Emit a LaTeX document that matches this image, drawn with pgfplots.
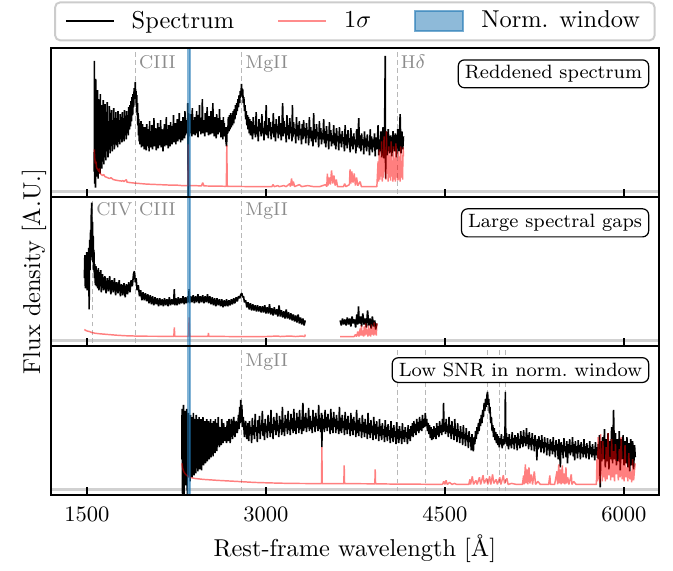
\documentclass[border=0pt]{standalone}
\usepackage{pgfplots}
\pgfplotsset{compat=1.18}
\usepgfplotslibrary{groupplots}
\definecolor{tabblue}{RGB}{31,119,180}
\pgfplotsset{
  lineleg/.style={legend image code/.code={\draw[##1] (0pt,0pt) -- (19.7pt,0pt);}},
  patchleg/.style={legend image code/.code={\draw[##1] (0pt,-4.1pt) rectangle (19.7pt,4.1pt);}},
}
\tikzset{
  spec/.style={black, line width=0.65pt, line join=bevel},
  err/.style={red, draw opacity=0.5, line width=0.6pt, line join=bevel},
  zero/.style={black!18, line width=1.1pt},
  lin/.style={black!28, line width=0.4pt, dash pattern=on 2pt off 1.3pt},
  win/.style={fill=tabblue, fill opacity=0.55, draw=tabblue, draw opacity=0.55, line width=0.8pt},
  lab/.style={anchor=base west, text=black!45, font=\fontsize{7.6}{9}\selectfont, inner sep=0pt, xshift=1.2pt},
  box/.style={draw=black, line width=0.5pt, rounded corners=2.5pt, fill=white, anchor=north east, font=\fontsize{7.9}{10}\selectfont, inner xsep=2.7pt, inner ysep=2.2pt},
}
\begin{document}
\begin{tikzpicture}
\begin{groupplot}[
  group style={group size=1 by 3, vertical sep=0pt, xticklabels at=edge bottom},
  width=249.4pt, height=61.05pt, scale only axis,
  xmin=1196, xmax=6295, ymin=-5.5, ymax=142.5,
  xtick={1500,3000,4500,6000}, ytick=\empty,
  xtick pos=left, tick align=inside, major tick length=3.3pt,
  axis line style={line width=0.75pt},
  every tick/.style={black, line width=0.6pt},
  x tick label style={font=\fontsize{9}{10}\selectfont, /pgf/number format/1000 sep={}, yshift=-1.5pt},
  axis on top,
  every axis plot/.append style={forget plot},
]
%%%%%%%%%%%%%%%%%%%% PANEL 1
\nextgroupplot[
  legend style={at={(0.5,1)}, anchor=south, yshift=2.87pt, legend columns=3, draw=black!20, line width=0.8pt, rounded corners=2pt, inner xsep=4pt, inner ysep=1.5pt, nodes={inner sep=2pt}, font=\normalsize, /tikz/every odd column/.append style={column sep=5pt}, /tikz/every even column/.append style={column sep=15.7pt}},
]
\addlegendimage{lineleg, black, line width=0.7pt}
\addlegendentry{Spectrum}
\addlegendimage{lineleg, red, draw opacity=0.45, line width=0.7pt}
\addlegendentry{1$\sigma$}
\addlegendimage{patchleg, fill=tabblue, fill opacity=0.5, draw=tabblue, draw opacity=0.6, line width=0.8pt, sharp corners}
\addlegendentry{Norm. window}
\addplot[zero] coordinates {(1000,0) (7000,0)};
\addplot[lin] coordinates {(1909,-10) (1909,150)};
\addplot[lin] coordinates {(2798,-10) (2798,150)};
\addplot[lin] coordinates {(4102,-10) (4102,150)};
\addplot[spec] coordinates {
(1561,20) (1562,130) (1564,8) (1567,96) (1569,30) (1571,4) (1573,112) (1576,40) (1578,15) (1581,88) (1583,60) (1585,22) (1588,101) (1591,45) (1593,13) (1596,92) (1599,70) (1601,27) (1604,84) (1606,36) (1609,18) (1612,97) (1615,55) (1617,31) (1620,86) (1623,62) (1625,23) (1628,79) (1631,48) (1633,35) (1636,91) (1639,57) (1641,27) (1644,75) (1647,63) (1649,37) (1652,87) (1655,52) (1658,31) (1661,72) (1664,58) (1667,40) (1670,89) (1673,47) (1676,34) (1679,70) (1682,60) (1685,43) (1688,85) (1691,52) (1694,38) (1697,75) (1700,62) (1703,46) (1706,81) (1709,55) (1712,40) (1715,70) (1718,58) (1721,48) (1724,83) (1727,54) (1730,42) (1733,72) (1736,62) (1739,50) (1742,79) (1745,56) (1748,46) (1751,68) (1754,60) (1757,44) (1760,80) (1763,57) (1766,50) (1769,71) (1772,62) (1775,47) (1778,77) (1781,58) (1784,52) (1787,70) (1790,60) (1793,49) (1796,79) (1799,61) (1802,53) (1805,73) (1808,63) (1811,50) (1814,81) (1817,58) (1820,56) (1823,72) (1826,64) (1829,52) (1832,80) (1835,62) (1838,58) (1841,76) (1844,66) (1847,56) (1850,84) (1853,66) (1856,62) (1859,86) (1862,70) (1865,65) (1868,90) (1871,74) (1874,70) (1877,94) (1880,78) (1883,76) (1886,97) (1889,84) (1892,86) (1895,103) (1898,92) (1901,95) (1905,109) (1908,92) (1911,100) (1914,84) (1917,96) (1920,76) (1923,88) (1926,66) (1929,78) (1932,56) (1935,72) (1938,50) (1941,68) (1944,47) (1947,64) (1950,52) (1953,70) (1956,44) (1959,62) (1962,50) (1965,67) (1968,45) (1971,60) (1974,52) (1977,64) (1980,42)
(1985,64) (1989,49) (1993,58) (1997,41) (2001,67) (2005,52) (2009,45) (2013,62) (2017,56) (2021,40) (2025,70) (2029,48) (2033,59) (2037,44) (2041,53) (2045,66) (2049,42) (2053,58) (2057,50) (2061,73) (2065,45) (2069,55) (2073,47) (2077,63) (2081,41) (2085,60) (2089,52) (2093,68) (2097,43) (2101,57) (2105,49) (2109,64) (2113,46) (2117,71) (2121,44) (2125,56) (2129,50) (2133,62) (2137,40) (2141,59) (2145,53) (2149,67) (2153,45) (2157,58) (2161,48) (2165,74) (2169,46) (2173,55) (2177,62) (2181,43) (2185,66) (2189,51) (2193,57) (2197,45) (2201,69) (2205,50) (2209,60) (2213,47) (2217,65) (2221,53) (2225,76) (2229,49) (2233,58) (2237,52) (2241,68) (2245,47) (2249,62) (2253,56) (2257,72) (2261,50) (2265,60) (2269,54) (2273,78) (2277,52) (2281,63) (2285,49) (2289,70) (2293,57) (2297,65) (2301,51) (2305,74) (2309,55) (2313,62) (2317,53) (2321,80) (2325,56) (2329,66) (2333,58) (2337,71) (2341,60) (2345,88) (2348,-10) (2351,78) (2355,55)
(2359,70) (2363,58) (2367,77) (2371,61) (2375,66) (2379,55) (2383,83) (2387,60) (2391,71) (2395,57) (2399,64) (2403,74) (2407,56) (2411,68) (2415,62) (2419,80) (2423,58) (2427,70) (2431,54) (2435,76) (2439,63) (2443,86) (2447,60) (2451,69) (2455,57) (2459,73) (2463,64) (2467,92) (2471,58) (2475,71) (2479,60) (2483,66) (2487,55) (2491,78) (2495,62) (2499,72) (2503,59) (2507,84) (2511,61) (2515,68) (2519,56) (2523,75) (2527,63) (2531,70) (2535,57) (2539,80) (2543,60) (2547,67) (2551,58) (2555,88) (2559,62) (2563,71) (2567,55) (2571,74) (2575,61) (2579,66) (2583,53) (2587,77) (2591,62) (2595,70) (2599,57) (2603,73) (2607,59) (2611,82) (2615,60) (2619,67) (2623,54) (2627,71) (2631,58) (2635,65) (2639,52) (2643,74) (2647,57) (2651,68) (2655,55) (2660,64) (2665,50) (2670,45) (2675,64)
(2680,58) (2685,74) (2690,60) (2695,76) (2700,62) (2705,78) (2710,64) (2715,76) (2720,66) (2725,80) (2730,68) (2735,82) (2740,72) (2745,86) (2750,76) (2755,88) (2760,80) (2765,92) (2770,84) (2775,96) (2780,88) (2785,100) (2790,94) (2795,107) (2800,96) (2805,102) (2810,88) (2815,94) (2820,80) (2825,86) (2830,72) (2835,80) (2840,66) (2845,76) (2850,62) (2855,74) (2860,58) (2865,72)
(2870,56) (2876,70) (2882,60) (2888,52) (2894,74) (2900,58) (2906,66) (2912,54) (2918,79) (2924,57) (2930,64) (2936,50) (2942,72) (2948,60) (2954,68) (2960,55) (2966,77) (2972,58) (2978,63) (2984,51) (2990,70) (2996,57) (3002,86) (3008,56) (3014,66) (3020,53) (3026,73) (3032,60) (3038,69) (3044,52) (3050,64) (3056,58) (3062,78) (3068,54) (3074,67) (3080,50) (3086,72) (3092,59) (3098,65) (3104,53) (3110,75) (3116,57) (3122,68) (3128,51) (3134,63) (3140,88) (3146,55) (3152,70) (3158,58) (3164,64) (3170,49) (3176,76) (3182,56) (3188,66) (3194,52) (3200,73) (3206,58) (3212,64) (3218,50) (3222,86) (3226,54) (3232,69) (3238,57) (3244,62) (3250,48) (3256,74) (3262,55) (3268,66) (3274,51) (3280,70) (3286,56) (3292,62) (3298,47) (3304,67)
(3310,52) (3316,71) (3322,55) (3328,63) (3334,48) (3340,68) (3346,56) (3352,61) (3358,46) (3364,74) (3370,53) (3376,64) (3382,50) (3388,60) (3394,45) (3400,78) (3406,52) (3412,62) (3418,49) (3424,67) (3430,55) (3436,59) (3442,44) (3448,70) (3454,52) (3460,63) (3466,47) (3472,58) (3478,52) (3484,72) (3490,48) (3496,60) (3502,44) (3508,65) (3514,51) (3520,57) (3526,42) (3532,69) (3538,50) (3544,61) (3550,45) (3556,56) (3562,48) (3568,66) (3574,46) (3580,58) (3586,42) (3592,63) (3598,50) (3604,55) (3610,41) (3616,64) (3622,48) (3628,57) (3634,44) (3640,60) (3646,50) (3652,54) (3658,40) (3664,66) (3670,46) (3676,57) (3682,43) (3688,61) (3694,49) (3700,53) (3706,39) (3712,63) (3718,45) (3724,55) (3730,42) (3736,58) (3742,47) (3748,52) (3754,38) (3760,62) (3766,44) (3772,55) (3778,73) (3784,43) (3790,56) (3796,40) (3802,58) (3808,46) (3814,52) (3820,37) (3826,60) (3832,44) (3838,53) (3844,40) (3850,57) (3856,45) (3862,50) (3868,36) (3874,62) (3880,42) (3886,55) (3892,39) (3898,52) (3904,44) (3910,58) (3916,35) (3922,54) (3928,42) (3934,48) (3940,66) (3946,36) (3952,52) (3958,40) (3964,60) (3970,34) (3976,56) (3982,64) (3988,33) (3994,50) (4000,135) (4003,13) (4008,60) (4015,36) (4025,62) (4035,38) (4045,56) (4055,35) (4065,60) (4075,40) (4085,58) (4095,34) (4105,62) (4115,40) (4125,77) (4132,38) (4140,60) (4147,42) (4153,55)
};
\addplot[err] coordinates {
(1561,42) (1565,33) (1570,28) (1575,30) (1580,24) (1590,22) (1600,20) (1605,23) (1610,18) (1620,17) (1630,16) (1640,17) (1650,15) (1670,14) (1690,13) (1700,14) (1720,12) (1740,11.5) (1760,11) (1790,10.5) (1800,11) (1810,10) (1830,12) (1835,9.5) (1860,9) (1900,8.5) (1950,8) (2000,7.5) (2100,7) (2200,6.5) (2250,6.5) (2300,6) (2345,6) (2348,47) (2351,6) (2400,6) (2460,5.7) (2470,9) (2480,5.7) (2550,5.5) (2600,5.5) (2668,5.3) (2672,46) (2676,5.3) (2750,5.2) (2900,5) (3000,5) (3050,5) (3060,7) (3070,5) (3100,6) (3110,5) (3150,6) (3170,5) (3200,8) (3205,5) (3215,13) (3222,6) (3230,10) (3240,5) (3280,7) (3300,5) (3350,6) (3400,5) (3450,5) (3500,7) (3510,5) (3515,18) (3520,6) (3530,14) (3540,7) (3550,21) (3560,8) (3570,16) (3580,6) (3590,12) (3600,5) (3650,5) (3660,8) (3670,5) (3700,7) (3705,22) (3712,8) (3720,20) (3730,9) (3740,18) (3750,6) (3760,14) (3770,6) (3790,10) (3800,5) (3850,5) (3900,5) (3930,5) (3940,30) (3945,10) (3950,42) (3955,12) (3960,35) (3965,15) (3970,50) (3975,10) (3980,38) (3985,14) (3990,55) (3995,20) (4000,40) (4005,12) (4010,60) (4015,18) (4020,30) (4025,10) (4030,45) (4035,14) (4040,36) (4045,11) (4050,50) (4055,15) (4060,28) (4065,10) (4070,45) (4075,12) (4080,32) (4085,10) (4090,48) (4095,14) (4100,30) (4105,11) (4110,40) (4115,12) (4120,35) (4125,10) (4130,45) (4135,14) (4140,30) (4145,12) (4150,44) (4153,35)
};
\addplot[win] coordinates {(2340,-10) (2360,-10) (2360,150) (2340,150)};
\node[lab] at (axis cs:1909,122) {CIII};
\node[lab] at (axis cs:2798,122) {MgII};
\node[lab] at (axis cs:4102,122) {H$\delta$};
\node[box] at (rel axis cs:0.984,0.926) {Reddened spectrum};
%%%%%%%%%%%%%%%%%%%% PANEL 2
\nextgroupplot[ylabel={Flux density [A.U.]}, ylabel style={font=\normalsize, at={(rel axis cs:0.0066,0.5)}, anchor=south}]
\addplot[zero] coordinates {(1000,0) (7000,0)};
\addplot[lin] coordinates {(1549,-10) (1549,150)};
\addplot[lin] coordinates {(1909,-10) (1909,150)};
\addplot[lin] coordinates {(2798,-10) (2798,150)};
\addplot[spec] coordinates {
(1478,62) (1482,85) (1486,52) (1490,80) (1494,58) (1498,88) (1502,50) (1506,84) (1510,60) (1514,92) (1518,31) (1522,100) (1526,70) (1530,110) (1533,80) (1536,125) (1540,137) (1543,90) (1546,118) (1549,78) (1552,104) (1555,70) (1558,90) (1562,62) (1566,76) (1570,55) (1575,74) (1580,54) (1585,70) (1590,52) (1595,72) (1600,50) (1605,68) (1610,54) (1615,70) (1620,48) (1630,66) (1640,50) (1650,64) (1660,47) (1670,62) (1680,49) (1690,64) (1700,46) (1710,60) (1720,48) (1730,62) (1740,45) (1750,58) (1760,47) (1770,60) (1780,44) (1790,56) (1800,45) (1810,57) (1820,43) (1830,56) (1840,46) (1850,58) (1860,48) (1870,60) (1880,54) (1890,66) (1897,69) (1905,58) (1912,62) (1920,50) (1930,55) (1940,44) (1950,50) (1960,40) (1970,48) (1980,40) (1990,47) (2000,39) (2010,46) (2020,37) (2030,45) (2040,36) (2050,44) (2060,35) (2070,43) (2080,36) (2090,42) (2100,34) (2110,42) (2120,35) (2130,41) (2140,34) (2150,42) (2160,35) (2170,41) (2180,34) (2190,43) (2200,35) (2210,41) (2220,36) (2228,42) (2232,51) (2236,35) (2245,42) (2255,35) (2265,43) (2275,36) (2285,42) (2295,37) (2305,44) (2315,36) (2325,43) (2335,37) (2345,44) (2352,38) (2356,51) (2360,37) (2370,44) (2380,38) (2390,45) (2400,37) (2410,44) (2420,38) (2430,46) (2440,37) (2450,44) (2460,38) (2470,45) (2480,37) (2490,44) (2500,38) (2510,46) (2520,37) (2530,44) (2540,36) (2550,43) (2560,35) (2570,42) (2580,34) (2590,42) (2600,35) (2610,41) (2620,34) (2630,41) (2640,33) (2650,40) (2660,34) (2670,41) (2680,34) (2690,40) (2700,35) (2710,41) (2720,36) (2730,42) (2740,37) (2750,43) (2760,39) (2770,44) (2780,42) (2790,46) (2798,47) (2805,43) (2812,44) (2820,38) (2830,40) (2840,33) (2850,38) (2860,31) (2870,37) (2880,30) (2890,36) (2900,30) (2910,35) (2920,29) (2930,35) (2940,29) (2950,34) (2960,28) (2970,34) (2980,28) (2990,35) (3000,27) (3010,33) (3020,27) (3030,36) (3040,26) (3050,32) (3060,25) (3070,33) (3080,26) (3090,31) (3100,24) (3110,35) (3120,24) (3130,30) (3140,23) (3150,29) (3160,22) (3170,31) (3180,22) (3190,28) (3200,21) (3210,27) (3220,20) (3230,26) (3240,19) (3250,25) (3260,18) (3270,26) (3280,17) (3290,23) (3300,16) (3310,22) (3320,15) (3329,20)
};
\addplot[spec] coordinates {
(3622,20) (3632,15) (3642,22) (3652,16) (3662,21) (3672,15) (3682,23) (3692,16) (3702,22) (3712,14) (3722,24) (3732,17) (3742,21) (3752,13) (3762,26) (3770,16) (3776,34) (3782,17) (3792,24) (3802,14) (3812,27) (3822,16) (3832,22) (3842,13) (3852,30) (3862,15) (3872,22) (3882,12) (3892,24) (3902,14) (3912,20) (3920,11) (3930,17)
};
\addplot[err] coordinates {
(1478,11) (1490,10) (1500,9.5) (1520,9) (1540,8) (1567,7.3) (1600,6.8) (1679,6) (1750,5.3) (1819,4.8) (1900,4.5) (2000,4.3) (2228,4.2) (2232,13) (2236,4.2) (2352,4.2) (2356,23) (2360,4.2) (2515,4.2) (2518,7.5) (2521,4.2) (2700,4) (2800,4) (3000,4) (3100,4.5) (3120,4) (3200,4.5) (3250,4) (3300,4.5) (3326,4) (3329,6)
};
\addplot[err] coordinates {
(3622,4) (3700,4) (3740,4) (3750,6) (3760,4) (3770,9) (3780,4) (3790,12) (3795,5) (3800,15) (3806,5) (3812,10) (3818,4) (3824,14) (3830,5) (3836,17) (3842,6) (3848,11) (3854,4) (3860,15) (3866,5) (3872,12) (3878,4) (3884,16) (3890,6) (3896,13) (3902,5) (3908,18) (3914,6) (3920,14) (3925,5) (3930,17)
};
\addplot[win] coordinates {(2340,-10) (2360,-10) (2360,150) (2340,150)};
\node[lab] at (axis cs:1549,124) {CIV};
\node[lab] at (axis cs:1909,124) {CIII};
\node[lab] at (axis cs:2798,124) {MgII};
\node[box] at (rel axis cs:0.984,0.926) {Large spectral gaps};
%%%%%%%%%%%%%%%%%%%% PANEL 3
\nextgroupplot[xlabel={Rest-frame wavelength [\AA]}, xlabel style={font=\normalsize, yshift=1.5pt}]
\addplot[zero] coordinates {(1000,0) (7000,0)};
\addplot[lin] coordinates {(2798,-10) (2798,150)};
\addplot[lin] coordinates {(4102,-10) (4102,150)};
\addplot[lin] coordinates {(4340,-10) (4340,150)};
\addplot[lin] coordinates {(4861,-10) (4861,150)};
\addplot[lin] coordinates {(4959,-10) (4959,150)};
\addplot[lin] coordinates {(5007,-10) (5007,150)};
\addplot[spec] coordinates {
(2295,30) (2297,80) (2299,40) (2301,-5) (2303,70) (2305,35) (2307,10) (2309,84) (2311,50) (2313,-5) (2315,66) (2318,45) (2320,20) (2322,78) (2325,38) (2327,4) (2329,72) (2332,52) (2334,14) (2336,80) (2339,30) (2341,-5) (2344,70) (2347,48) (2349,12) (2352,76) (2355,40) (2357,20) (2360,68) (2363,50) (2365,8) (2368,74) (2371,44) (2373,16) (2376,72) (2379,36) (2381,12) (2384,66) (2387,50) (2389,20) (2392,76) (2395,42) (2397,14) (2400,70) (2403,54) (2405,22) (2408,68) (2411,38) (2413,16) (2416,74) (2419,50) (2421,24) (2424,64) (2427,44) (2429,18) (2432,70) (2435,56) (2437,22) (2440,72) (2443,40) (2445,20) (2448,66) (2451,52) (2453,26) (2456,70) (2459,46) (2461,19) (2464,64) (2467,55) (2469,28) (2472,72) (2475,42) (2477,24) (2480,66) (2483,54) (2485,30) (2488,68) (2491,48) (2493,26) (2496,62) (2499,50) (2501,32) (2504,70) (2507,45) (2509,28) (2512,64) (2515,56) (2517,34) (2520,68) (2523,50) (2525,30) (2528,62) (2531,52) (2533,36) (2536,70) (2539,48) (2541,32) (2544,66) (2547,57) (2549,38) (2552,64) (2555,50) (2557,33) (2560,68) (2563,55) (2565,40) (2568,62) (2571,52) (2573,36) (2576,70) (2579,58) (2581,42) (2584,64) (2587,53) (2589,38) (2592,66) (2595,56) (2597,44) (2600,72) (2605,50) (2610,42) (2615,62) (2620,55) (2625,44) (2630,70) (2635,56) (2640,46) (2645,66) (2650,58) (2655,48) (2660,62) (2665,55) (2670,46) (2675,68) (2680,57) (2685,48) (2690,70) (2695,58) (2700,46) (2710,70) (2720,50) (2730,72) (2740,52) (2750,68) (2760,56) (2770,74) (2775,60) (2780,82) (2785,66) (2789,89) (2793,70) (2798,84) (2803,62) (2810,72) (2820,52) (2830,68) (2840,50) (2850,66)
(2856,48) (2862,68) (2868,55) (2874,62) (2880,46) (2886,71) (2892,54) (2898,64) (2904,50) (2910,75) (2916,57) (2922,62) (2928,47) (2934,69) (2940,56) (2946,73) (2952,50) (2958,64) (2964,58) (2970,78) (2976,53) (2982,66) (2988,49) (2994,70) (3000,57) (3006,63) (3012,51) (3018,74) (3024,58) (3030,67) (3036,52) (3042,79) (3048,56) (3054,65) (3060,50) (3066,72) (3072,59) (3078,68) (3084,54) (3090,76) (3096,58) (3102,64) (3108,52) (3114,73) (3120,60) (3126,69) (3132,54) (3138,82) (3144,57) (3150,66) (3156,53) (3162,74) (3168,61) (3174,70) (3180,55) (3186,78) (3192,59) (3198,67) (3204,54) (3210,75) (3216,60) (3222,71) (3228,56) (3234,80) (3240,58) (3246,68) (3252,55) (3258,76) (3264,61) (3270,72) (3276,56) (3282,79) (3288,60) (3294,69) (3300,55) (3306,77) (3310,86) (3316,58) (3322,72) (3328,61) (3334,76) (3340,57) (3346,70) (3352,62) (3358,81) (3364,58) (3370,73) (3376,60) (3382,68) (3388,56) (3394,79) (3400,62) (3406,72) (3412,57) (3418,76) (3424,63) (3430,70) (3436,58) (3442,84) (3448,60) (3454,71) (3460,57) (3466,76) (3469,42) (3472,74) (3478,60) (3484,70) (3490,57) (3496,79) (3502,61) (3508,72) (3514,58) (3520,75) (3526,62) (3532,69) (3538,55) (3544,80) (3550,59) (3556,71) (3562,56) (3568,77) (3574,62) (3580,70) (3586,56) (3592,74) (3598,60) (3604,68) (3610,55) (3616,82) (3622,58) (3628,71) (3634,56) (3640,74) (3646,61) (3652,68) (3658,54) (3664,77) (3670,59) (3676,70) (3682,55) (3688,73) (3694,60) (3700,66) (3706,53) (3712,76) (3718,58) (3724,70) (3730,54) (3736,72) (3742,59) (3748,66) (3754,52) (3760,79) (3766,56) (3772,69) (3778,53) (3784,71) (3790,58) (3796,65) (3802,51) (3808,74) (3814,57) (3820,67) (3826,52) (3832,70) (3838,56) (3844,64) (3850,50) (3856,76) (3862,55) (3868,66) (3874,51) (3880,69) (3886,56) (3892,63) (3898,49) (3904,72) (3910,54) (3916,65) (3922,50) (3928,68) (3934,55) (3940,62) (3946,48) (3952,70) (3958,53) (3964,63) (3970,49) (3976,66) (3982,54) (3988,60) (3994,47) (4000,69) (4006,52) (4012,62) (4018,48) (4024,65) (4030,53) (4036,59) (4042,46) (4048,68) (4054,51) (4060,61) (4066,47) (4072,64) (4078,52) (4084,58) (4090,45) (4096,67) (4102,50) (4108,60) (4114,46) (4120,63) (4126,51) (4132,58) (4138,45) (4144,66) (4150,50) (4156,59) (4162,47) (4168,62) (4174,52) (4180,57) (4186,45) (4192,64) (4198,50) (4204,60) (4210,48) (4216,63) (4222,53) (4228,66) (4234,52) (4240,68) (4246,56) (4252,65) (4258,54) (4264,70) (4270,58) (4276,67) (4282,56) (4288,72) (4294,59) (4300,68) (4306,58) (4312,74) (4318,61) (4324,70) (4330,62) (4336,76) (4342,63) (4348,70) (4354,58) (4360,66) (4366,55) (4372,64) (4378,51) (4384,62) (4390,49) (4396,60) (4402,50) (4408,63) (4414,52) (4420,61) (4426,50) (4432,66) (4438,54) (4444,63) (4450,52) (4456,68) (4462,56) (4468,64) (4474,54) (4480,70) (4485,57) (4489,86) (4493,58)
(4499,66) (4505,55) (4511,70) (4517,57) (4523,63) (4529,52) (4535,72) (4541,56) (4547,64) (4553,50) (4559,68) (4565,55) (4571,61) (4577,49) (4583,70) (4589,53) (4595,60) (4601,47) (4607,66) (4613,52) (4619,58) (4625,46) (4631,63) (4637,51) (4643,57) (4649,44) (4655,64) (4661,50) (4667,55) (4673,43) (4679,61) (4685,49) (4691,54) (4697,41) (4703,58) (4709,47) (4715,52) (4721,39) (4727,55) (4733,44) (4739,38) (4745,52) (4751,45) (4757,58) (4763,50) (4769,62) (4775,55) (4781,66) (4787,58) (4793,70) (4799,63) (4805,74) (4811,66) (4817,79) (4823,72) (4829,86) (4835,78) (4841,90) (4847,82) (4853,94) (4858,97) (4863,84) (4868,90) (4873,76) (4878,82) (4884,66) (4890,72) (4896,58) (4902,64) (4908,52) (4914,61) (4920,49) (4926,57) (4932,46) (4938,55) (4944,44) (4950,53) (4956,42) (4962,51) (4968,45) (4974,55) (4980,41) (4986,50) (4992,44) (4998,53) (5003,45) (5007,97) (5011,47) (5016,56) (5022,43) (5028,52) (5034,40) (5040,55) (5046,44) (5052,50) (5058,41) (5064,57) (5070,45) (5076,51) (5082,40) (5088,54) (5094,46) (5100,52) (5106,39) (5112,56) (5118,44) (5124,50) (5130,41) (5136,58) (5142,45) (5148,53) (5154,42) (5160,59) (5166,46) (5172,52) (5178,43) (5184,61) (5190,45) (5196,54) (5202,40) (5208,57) (5214,44) (5220,51) (5226,39) (5232,56) (5238,45) (5244,50) (5250,38) (5256,54) (5262,43) (5268,48) (5271,29) (5276,50) (5282,40) (5288,53) (5294,42) (5300,49) (5306,37) (5312,54) (5318,41) (5324,47) (5330,36) (5336,52) (5342,42) (5348,46) (5354,34) (5360,51) (5366,40) (5372,45) (5378,33) (5384,50) (5390,39) (5396,47) (5402,35) (5408,52) (5414,38) (5420,44) (5426,32) (5432,49) (5438,39) (5444,45) (5450,30) (5456,50) (5462,38) (5468,22) (5474,47) (5480,37) (5486,44) (5492,31) (5498,51) (5504,38) (5510,43) (5516,32) (5522,48) (5528,26) (5534,45) (5540,36) (5546,50) (5552,34) (5558,44) (5564,37) (5570,52) (5576,33) (5582,45) (5588,29) (5594,48) (5600,36) (5606,43) (5612,31) (5618,49) (5624,37) (5630,44) (5636,30) (5642,47) (5648,36) (5654,42) (5660,32) (5666,50) (5672,35) (5678,43) (5684,31) (5690,46) (5696,36) (5702,41) (5708,30) (5714,48) (5720,35) (5726,42) (5732,32) (5738,45) (5744,34) (5750,40) (5756,29) (5762,47) (5768,34) (5774,42) (5780,31) (5786,45) (5790,30)
(5796,54) (5802,2) (5808,48) (5815,28) (5822,52) (5830,30) (5838,60) (5845,22) (5852,50) (5860,28) (5868,56) (5875,20) (5882,48) (5890,30) (5898,62) (5906,26) (5914,79) (5922,30) (5930,56) (5938,24) (5946,50) (5954,28) (5962,58) (5970,19) (5978,50) (5986,30) (5994,54) (6002,24) (6010,48) (6018,26) (6026,52) (6034,22) (6042,46) (6050,18) (6058,50) (6066,24) (6074,48) (6082,20) (6090,44) (6096,32)
};
\addplot[err] coordinates {
(2295,26) (2300,22) (2310,18) (2320,16) (2335,14) (2364,12) (2400,11) (2476,10) (2600,9) (2756,8) (2900,7) (3035,6.5) (3200,6) (3466,5.8) (3469,42) (3472,5.8) (3653,5.8) (3656,24) (3659,5.8) (3913,5.6) (3916,20) (3919,5.6) (4100,5.3) (4293,5.2) (4480,5) (4490,8) (4500,5) (4510,9) (4520,5) (4540,7) (4560,5) (4580,6) (4600,5) (4700,5) (4710,10) (4715,5) (4730,13) (4740,5) (4760,9) (4770,5) (4790,12) (4800,5) (4820,14) (4830,6) (4850,11) (4860,5) (4875,13) (4885,5) (4900,15) (4910,6) (4930,10) (4940,5) (4960,12) (4970,5) (4990,14) (5000,6) (5020,11) (5030,5) (5060,6) (5100,5) (5150,5) (5160,14) (5165,5) (5175,25) (5180,6) (5190,20) (5195,5) (5205,22) (5212,6) (5225,15) (5235,5) (5250,18) (5260,5) (5280,8) (5300,5) (5370,5) (5380,14) (5385,5) (5420,5) (5440,18) (5445,5) (5455,25) (5460,6) (5470,20) (5475,5) (5485,24) (5490,6) (5500,16) (5505,5) (5515,22) (5520,6) (5530,12) (5540,5) (5560,15) (5565,5) (5580,8) (5600,5) (5700,5) (5770,5) (5775,30) (5780,8) (5785,52) (5790,10) (5795,40) (5800,6) (5805,55) (5810,15) (5815,35) (5820,8) (5825,48) (5830,12) (5838,30) (5845,8) (5852,42) (5860,10) (5868,56) (5875,14) (5882,32) (5890,9) (5898,50) (5906,12) (5914,38) (5922,8) (5930,45) (5938,15) (5946,28) (5954,9) (5962,40) (5970,12) (5978,52) (5986,10) (5994,30) (6002,8) (6010,44) (6018,12) (6026,22) (6034,8) (6042,36) (6050,10) (6058,18) (6066,7) (6074,30) (6082,9) (6090,20) (6096,26)
};
\addplot[win] coordinates {(2340,-10) (2360,-10) (2360,150) (2340,150)};
\node[lab] at (axis cs:2798,122) {MgII};
\node[box] at (rel axis cs:0.984,0.926) {Low SNR in norm.\ window};
\end{groupplot}
\path ([shift={(-20.8pt,19.8pt)}]group c1r1.north west) rectangle ([shift={(5.74pt,-29.9pt)}]group c1r3.south east);
\end{tikzpicture}
\end{document}
